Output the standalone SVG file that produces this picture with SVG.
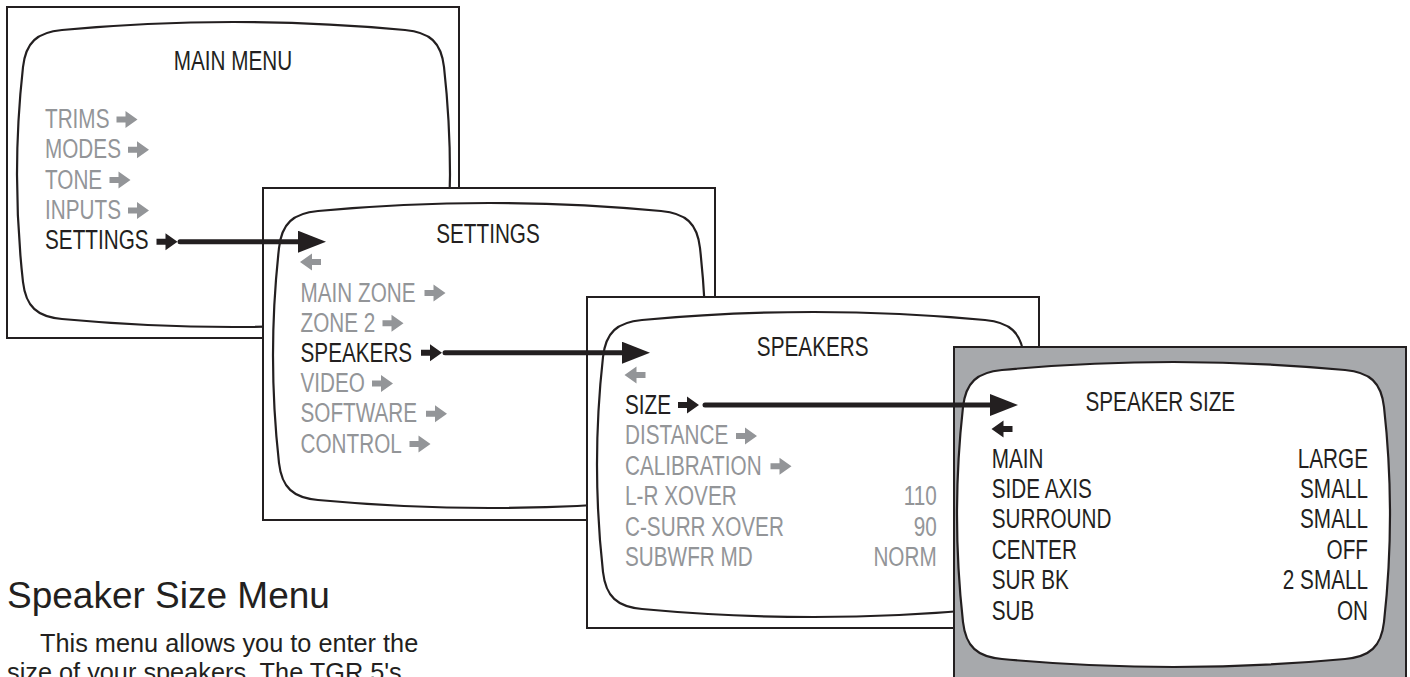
<svg xmlns="http://www.w3.org/2000/svg" xmlns:xlink="http://www.w3.org/1999/xlink" width="1410" height="677" viewBox="0 0 1410 677">
<style>
.frame{fill:#fff;stroke:#231f20;stroke-width:2}
.frame.gray{fill:#a7a9ac}
.scr{fill:#fff;stroke:#231f20;stroke-width:2.2}
.t{font-family:"Liberation Sans",Arial,sans-serif;font-size:28px}
.k{fill:#231f20}
.g{fill:#939598}
.mid{text-anchor:middle}
.end{text-anchor:end}
.conn{stroke:#231f20;stroke-width:5;stroke-linecap:round;fill:none}
.body{font-family:"Liberation Sans",Arial,sans-serif;fill:#231f20}
</style>
<defs>
<path id="scr" d="M55,23 Q226.5,7 398,23 C423,25.3 434.2,35.3 437,60 Q449,167.5 437,275 C434.2,299.7 423,309.7 398,312 Q226.5,328 55,312 C30,309.7 18.8,299.7 16,275 Q4,167.5 16,60 C18.8,35.3 30,25.3 55,23 Z"/>
<path id="ra" d="M0,-3 H9 V-8.5 L21,0 L9,8.5 V3 H0 Z"/>
<path id="la" d="M21,-3 H12 V-8.5 L0,0 L12,8.5 V3 H21 Z"/>
<marker id="head" markerUnits="userSpaceOnUse" viewBox="0 0 28 22" refX="0" refY="11" markerWidth="28" markerHeight="22" orient="auto">
<path d="M0,0 L28,11 L0,22 Z" fill="#231f20"/>
</marker>
</defs>

<g id="main-menu">
<rect class="frame" x="7" y="7" width="452" height="331"/>
<use href="#scr" x="7" y="7" class="scr"/>
<text class="t k mid" transform="translate(233,70) scale(.74,1)">MAIN MENU</text>
<text class="t g" transform="translate(45,128) scale(.74,1)">TRIMS</text>
<use href="#ra" x="116.5" y="119.5" class="g"/>
<text class="t g" transform="translate(45,158.3) scale(.74,1)">MODES</text>
<use href="#ra" x="128" y="149.8" class="g"/>
<text class="t g" transform="translate(45,188.6) scale(.74,1)">TONE</text>
<use href="#ra" x="109.5" y="180.1" class="g"/>
<text class="t g" transform="translate(45,219) scale(.74,1)">INPUTS</text>
<use href="#ra" x="128" y="210.5" class="g"/>
<text class="t k" transform="translate(45,249.3) scale(.74,1)">SETTINGS</text>
<use href="#ra" x="156.5" y="241.7" class="k"/>
</g>

<g id="settings">
<rect class="frame" x="263" y="188" width="452" height="332"/>
<use href="#scr" x="263" y="188" class="scr"/>
<text class="t k mid" transform="translate(488,243) scale(.74,1)">SETTINGS</text>
<use href="#la" x="300" y="262" class="g"/>
<text class="t g" transform="translate(300.5,301.5) scale(.74,1)">MAIN ZONE</text>
<use href="#ra" x="424.5" y="293" class="g"/>
<text class="t g" transform="translate(300.5,331.7) scale(.74,1)">ZONE 2</text>
<use href="#ra" x="382.5" y="323.2" class="g"/>
<text class="t k" transform="translate(300.5,361.9) scale(.74,1)">SPEAKERS</text>
<use href="#ra" x="421" y="352.7" class="k"/>
<text class="t g" transform="translate(300.5,392.1) scale(.74,1)">VIDEO</text>
<use href="#ra" x="372" y="383.6" class="g"/>
<text class="t g" transform="translate(300.5,422.3) scale(.74,1)">SOFTWARE</text>
<use href="#ra" x="426" y="413.8" class="g"/>
<text class="t g" transform="translate(300.5,452.5) scale(.74,1)">CONTROL</text>
<use href="#ra" x="409.5" y="444" class="g"/>
</g>

<g id="speakers">
<rect class="frame" x="587" y="297" width="452" height="331"/>
<use href="#scr" x="587" y="297" class="scr"/>
<text class="t k mid" transform="translate(812.7,356) scale(.74,1)">SPEAKERS</text>
<use href="#la" x="624.5" y="375" class="g"/>
<text class="t k" transform="translate(625,414) scale(.74,1)">SIZE</text>
<use href="#ra" x="678" y="405" class="k"/>
<text class="t g" transform="translate(625,444.4) scale(.74,1)">DISTANCE</text>
<use href="#ra" x="736" y="435.9" class="g"/>
<text class="t g" transform="translate(625,474.8) scale(.74,1)">CALIBRATION</text>
<use href="#ra" x="770.5" y="466.3" class="g"/>
<text class="t g" transform="translate(625,505.2) scale(.74,1)">L-R XOVER</text>
<text class="t g end" transform="translate(936.7,505.2) scale(.74,1)">110</text>
<text class="t g" transform="translate(625,535.6) scale(.74,1)">C-SURR XOVER</text>
<text class="t g end" transform="translate(936.7,535.6) scale(.74,1)">90</text>
<text class="t g" transform="translate(625,566) scale(.74,1)">SUBWFR MD</text>
<text class="t g end" transform="translate(936.7,566) scale(.74,1)">NORM</text>
</g>

<g id="speaker-size">
<rect class="frame gray" x="954" y="347" width="452" height="340"/>
<use href="#scr" x="947" y="347" class="scr"/>
<text class="t k mid" transform="translate(1160.3,410.7) scale(.74,1)">SPEAKER SIZE</text>
<use href="#la" x="991.5" y="429" class="k"/>
<text class="t k" transform="translate(991.7,467.7) scale(.74,1)">MAIN</text>
<text class="t k end" transform="translate(1368,467.7) scale(.74,1)">LARGE</text>
<text class="t k" transform="translate(991.7,498) scale(.74,1)">SIDE AXIS</text>
<text class="t k end" transform="translate(1368,498) scale(.74,1)">SMALL</text>
<text class="t k" transform="translate(991.7,528.3) scale(.74,1)">SURROUND</text>
<text class="t k end" transform="translate(1368,528.3) scale(.74,1)">SMALL</text>
<text class="t k" transform="translate(991.7,559) scale(.74,1)">CENTER</text>
<text class="t k end" transform="translate(1368,559) scale(.74,1)">OFF</text>
<text class="t k" transform="translate(991.7,589.3) scale(.74,1)">SUR BK</text>
<text class="t k end" transform="translate(1368,589.3) scale(.74,1)">2 SMALL</text>
<text class="t k" transform="translate(991.7,620) scale(.74,1)">SUB</text>
<text class="t k end" transform="translate(1368,620) scale(.74,1)">ON</text>
</g>

<g id="connectors">
<line class="conn" x1="180" y1="241.7" x2="298" y2="241.7" marker-end="url(#head)"/>
<line class="conn" x1="445" y1="352.7" x2="622" y2="352.7" marker-end="url(#head)"/>
<line class="conn" x1="705" y1="405" x2="990" y2="405" marker-end="url(#head)"/>
</g>

<g id="caption">
<text class="body" x="7" y="608" font-size="37">Speaker Size Menu</text>
<text class="body" x="40" y="652" font-size="25.3">This menu allows you to enter the</text>
<text class="body" x="7" y="681" font-size="25.3">size of your speakers. The TGR 5's</text>
</g>
</svg>
